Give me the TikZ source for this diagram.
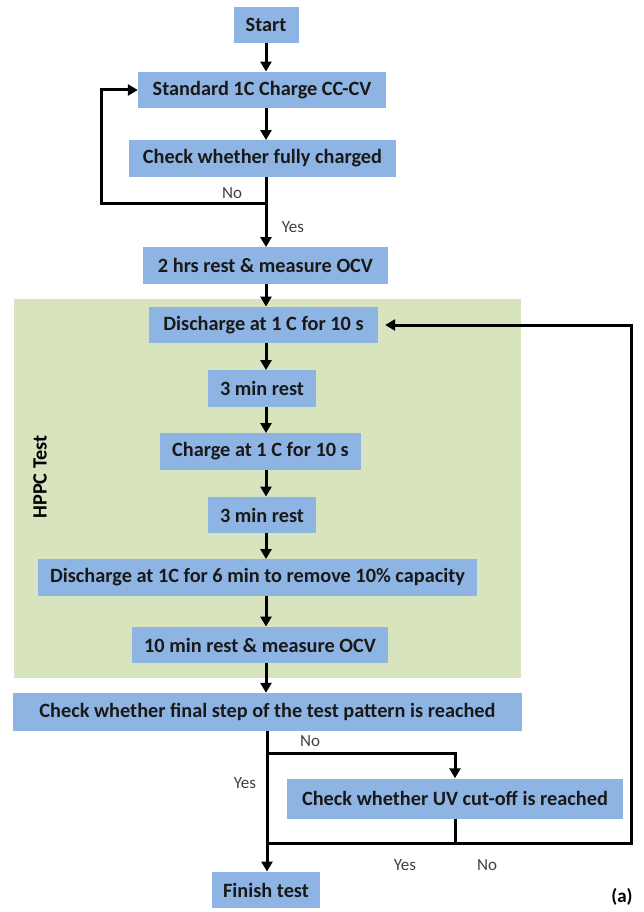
\documentclass[tikz,border=0pt]{standalone}
\usepackage{fontspec}
\setmainfont{Carlito}
\usetikzlibrary{arrows.meta,calc}
\definecolor{boxblue}{HTML}{8EB4E3}
\definecolor{hppcgreen}{HTML}{D7E4BD}
\definecolor{lblgray}{HTML}{404040}
\begin{document}
\begin{tikzpicture}[x=1pt,y=-1pt,
  stepbox/.style={fill=boxblue,inner sep=0pt,minimum height=36.5pt,font=\bfseries\fontsize{20.3}{24}\selectfont,text=black!90},
  conn/.style={line width=3pt,draw=black},
  arr/.style={conn,-{Triangle[length=10pt,width=11pt]}},
  lbl/.style={font=\fontsize{17}{20}\selectfont,text=lblgray}]
\useasboundingbox (0,0) rectangle (643,912);
\fill[hppcgreen] (14,299) rectangle (521,678);
\node[rotate=90,font=\bfseries\fontsize{20.3}{24}\selectfont] (hppc) at (40,477) {HPPC Test};

\node[stepbox,minimum width=65pt] (start) at (266,25) {Start};
\node[stepbox,minimum width=248pt] (std) at (262,90) {Standard 1C Charge CC-CV};
\node[stepbox,minimum width=267pt] (chk) at (262.5,158.5) {Check whether fully charged};
\node[stepbox,minimum width=245pt] (rest2) at (265.5,265.5) {2 hrs rest \& measure OCV};
\node[stepbox,minimum width=229pt] (dis1) at (263.5,325) {Discharge at 1 C for 10 s};
\node[stepbox,minimum width=108pt] (r3a) at (262,388.5) {3 min rest};
\node[stepbox,minimum width=201pt] (ch1) at (260.5,451.5) {Charge at 1 C for 10 s};
\node[stepbox,minimum width=108pt] (r3b) at (262,515) {3 min rest};
\node[stepbox,minimum width=439pt] (dis6) at (257.5,577.5) {Discharge at 1C for 6 min to remove 10\% capacity};
\node[stepbox,minimum width=256pt] (r10) at (260,645) {10 min rest \& measure OCV};
\node[stepbox,minimum width=509pt,minimum height=38pt] (fin) at (267.5,712) {Check whether final step of the test pattern is reached};
\node[stepbox,minimum width=336pt,minimum height=40pt] (uv) at (455,798.5) {Check whether UV cut-off is reached};
\node[stepbox,minimum width=108pt] (finish) at (266,890) {Finish test};

\coordinate (nob) at (266,203);
\coordinate (loopL) at (101,203);
\coordinate (br) at (267,753);
\coordinate (yj) at (267,843);
\coordinate (rj) at (631,843);

\draw[arr] (266,0 |- start.south) -- (266,0 |- std.north);
\draw[arr] (266,0 |- std.south) -- (266,0 |- chk.north);
\draw[conn] (266,0 |- chk.south) -- (nob);
\draw[arr] (nob) -- (266,0 |- rest2.north);
\draw[arr] (nob) -- (loopL) |- (std.west);
\draw[arr] (266,0 |- rest2.south) -- (266,0 |- dis1.north);
\draw[arr] (266,0 |- dis1.south) -- (266,0 |- r3a.north);
\draw[arr] (266,0 |- r3a.south) -- (266,0 |- ch1.north);
\draw[arr] (266,0 |- ch1.south) -- (266,0 |- r3b.north);
\draw[arr] (266,0 |- r3b.south) -- (266,0 |- dis6.north);
\draw[arr] (266,0 |- dis6.south) -- (266,0 |- r10.north);
\draw[arr] (266,0 |- r10.south) -- (266,0 |- fin.north);
\draw[arr] (267,0 |- fin.south) -- (267,0 |- finish.north);
\draw[arr] (br) -| (uv.north);
\draw[conn] (uv.south) -- (uv.south |- yj);
\draw[arr,shorten >=7pt] (yj) -- (rj) |- (dis1.east);

\node[lbl] (lno1) at (232,193) {No};
\node[lbl] (lyes1) at (293,227) {Yes};
\node[lbl] (lno2) at (310,741) {No};
\node[lbl] (lyes2) at (245,783) {Yes};
\node[lbl] (lyes3) at (405,865) {Yes};
\node[lbl] (lno3) at (487,865) {No};
\node[font=\bfseries\fontsize{19}{22}\selectfont] (tag) at (622,897) {(a)};
\end{tikzpicture}
\end{document}
